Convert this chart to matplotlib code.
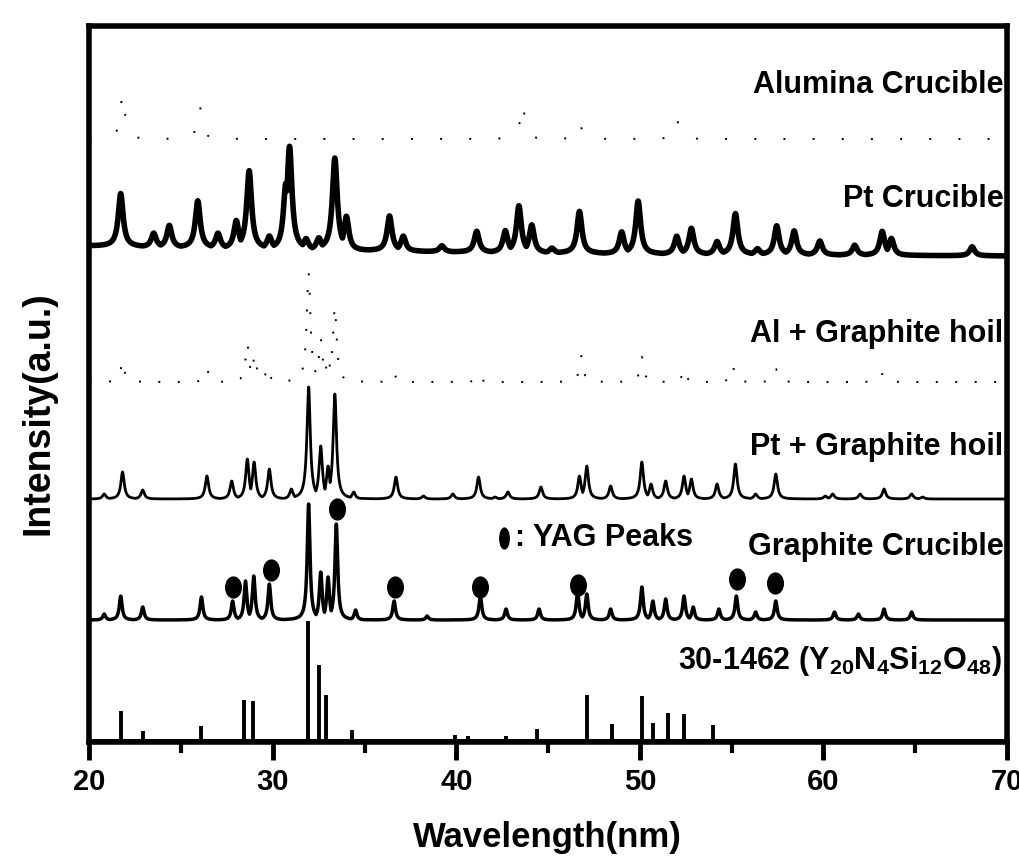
import numpy as np
import matplotlib
matplotlib.use('Agg')
import matplotlib.pyplot as plt
from matplotlib.path import Path
from matplotlib.transforms import Affine2D

plt.rcParams['font.family'] = ['Liberation Sans', 'DejaVu Sans']
plt.rcParams['font.weight'] = 'bold'
plt.rcParams['mathtext.fontset'] = 'custom'
plt.rcParams['mathtext.rm'] = 'Liberation Sans:bold'
plt.rcParams['mathtext.it'] = 'Liberation Sans:bold'
plt.rcParams['mathtext.bf'] = 'Liberation Sans:bold'
plt.rcParams['mathtext.default'] = 'rm'

# ---------------- data ----------------
x_ticks = [20, 30, 40, 50, 60, 70]

# Reference card 30-1462 (stick pattern)
ref_pos = [21.7, 22.9, 26.1, 28.4, 28.9, 31.9, 32.5, 32.9, 34.3, 39.9, 40.6,
           42.7, 44.4, 47.1, 48.5, 50.1, 50.7, 51.5, 52.4, 54.0]
ref_int = [29, 9, 14, 40, 39, 119, 75, 45, 10, 5, 4, 4, 11, 45, 16, 44, 17,
           27, 26, 15]

# Graphite Crucible
gc_pos = [20.8, 21.7, 22.9, 26.1, 27.8, 28.5, 28.95, 29.8, 31.94, 32.6, 33.0,
          33.45, 34.5, 36.6, 38.4, 41.3, 42.7, 44.5, 46.6, 47.1, 48.4, 50.1,
          50.7, 51.4, 52.4, 52.9, 54.3, 55.25, 56.3, 57.4, 60.6, 61.9, 63.3, 64.8]
gc_int = [6, 24, 13, 23, 19, 39, 44, 36, 116, 48, 43, 96, 10, 19, 4, 24, 11,
          11, 28, 26, 11, 33, 19, 21, 24, 13, 11, 24, 8, 19, 8, 6, 11, 8]

# YAG peak markers (above Graphite Crucible pattern)
yag_pos = [27.83, 29.89, 33.48, 36.63, 41.3, 46.6, 55.27, 57.34]
yag_y = [155, 172, 233, 155, 155, 157, 163, 159]

# Pt + Graphite hoil
pg_pos = [20.8, 21.8, 22.9, 26.4, 27.75, 28.6, 28.97, 29.8, 31.0, 31.94, 32.6,
          33.0, 33.37, 34.4, 36.7, 38.2, 39.8, 41.2, 42.1, 42.8, 44.6, 46.7,
          47.1, 48.4, 50.1, 50.6, 51.4, 52.4, 52.8, 54.2, 55.2, 56.3, 57.4,
          60.1, 60.5, 62.0, 63.3, 64.8, 65.4]
pg_int = [5, 27, 9, 23, 18, 40, 37, 30, 10, 112, 53, 33, 105, 7, 22, 3, 5, 22,
          2, 7, 12, 23, 33, 13, 37, 15, 18, 23, 20, 15, 35, 5, 25, 3, 5, 5, 10,
          5, 2]

# Al + Graphite hoil
ag_pos = [21.8, 26.4, 28.6, 29.0, 29.7, 31.94, 32.6, 33.0, 33.37, 36.6, 41.2,
          46.8, 50.1, 52.4, 55.05, 57.4, 63.2]
ag_int = [21, 13, 38, 27, 15, 109, 43, 25, 75, 8, 8, 26, 25, 13, 16, 13, 8]

# Pt Crucible
pt_pos = [21.7, 23.5, 24.35, 25.9, 27.0, 28.0, 28.7, 29.8, 30.7, 30.9, 31.8,
          32.5, 33.37, 34.0, 36.35, 37.1, 39.2, 41.1, 42.66, 43.4, 44.1, 45.2,
          46.7, 49.0, 49.9, 52.0, 52.8, 54.2, 55.2, 56.4, 57.45, 58.4, 59.8,
          61.7, 63.2, 63.7, 68.1]
pt_int = [53, 14, 22, 47, 15, 28, 78, 13, 66, 103, 11, 12, 92, 34, 35, 15, 6,
          21, 22, 47, 28, 5, 42, 22, 53, 18, 26, 13, 41, 6, 29, 24, 14, 10, 24,
          17, 9]
pt_base_x = [20, 30, 40, 50, 60, 70]
pt_base_y = [496, 493, 490, 488, 487, 486]

# Alumina Crucible
al_pos = [21.8, 26.0, 43.6, 46.7, 52.0]
al_int = [45, 33, 35, 16, 20]

# baselines (vertical offsets of the stacked patterns)
off_ref, off_gc, off_pg, off_ag, off_al = 2, 122, 243, 360, 603

# ---------------- drawing ----------------
fig = plt.figure(figsize=(10.2, 8.62), dpi=100)
ax = fig.add_axes([89.5 / 1020, 119 / 862, 917.5 / 1020, 716 / 862])
ax.set_xlim(20, 70)
ax.set_ylim(0, 716)

xg = np.linspace(20, 70, 10001)


def profile(pos, inten, hw):
    y = np.zeros_like(xg)
    for p, h in zip(pos, inten):
        y = np.maximum(y, h / (1.0 + ((xg - p) / hw) ** 2))
    return y


# reference sticks
ax.hlines(off_ref, 20, 70, color='k', lw=2)
ax.vlines(ref_pos, off_ref, np.array(ref_int) + off_ref, color='k', lw=2.8)

# Graphite Crucible
ax.plot(xg, off_gc + profile(gc_pos, gc_int, 0.09), color='k', lw=2.5)
ell = Path.unit_circle().transformed(Affine2D().scale(0.75, 1.0))
ax.plot(yag_pos, yag_y, ls='none', marker=ell, ms=15, color='k')

# Pt + Graphite hoil
ax.plot(xg, off_pg + profile(pg_pos, pg_int, 0.11), color='k', lw=2.0)

# Al + Graphite hoil (sparse dotted)
ax.plot(xg, off_ag + profile(ag_pos, ag_int, 0.12), color='k', lw=1.4,
        ls=(0, (1, 9)))

# Pt Crucible
pt_base = np.interp(xg, pt_base_x, pt_base_y)
ax.plot(xg, pt_base + profile(pt_pos, pt_int, 0.16), color='k', lw=4.0)

# Alumina Crucible (sparse dotted)
ax.plot(xg, off_al + profile(al_pos, al_int, 0.15), color='k', lw=1.4,
        ls=(0, (1, 14)))

# labels of patterns
lab_kw = dict(ha='right', va='baseline', fontsize=22, fontweight='bold')
ax.text(69.8, 650, 'Alumina Crucible', **lab_kw)
ax.text(69.8, 536, 'Pt Crucible', **lab_kw)
ax.text(69.8, 401, 'Al + Graphite hoil', **lab_kw)
ax.text(69.8, 288, 'Pt + Graphite hoil', **lab_kw)
ax.text(69.8, 188, 'Graphite Crucible', **lab_kw)
ax.text(69.7, 74, r'30-1462 (Y$_{20}$N$_{4}$Si$_{12}$O$_{48}$)', **lab_kw)

ell2 = Path.unit_circle().transformed(Affine2D().scale(0.45, 1.0))
ax.plot([42.6], [204], ls='none', marker=ell2, ms=15, color='k')
ax.text(43.2, 197, ': YAG Peaks', ha='left', va='baseline', fontsize=22,
        fontweight='bold')

# axes styling
for s in ax.spines.values():
    s.set_linewidth(4)
ax.set_xticks(x_ticks)
ax.set_xticks([25, 35, 45, 55, 65], minor=True)
ax.set_yticks([])
ax.tick_params(axis='x', which='major', direction='out', length=13, width=3.5,
               labelsize=21, pad=5)
ax.tick_params(axis='x', which='minor', direction='out', length=8, width=3)
for lbl in ax.get_xticklabels():
    lbl.set_fontweight('bold')

fig.text(547 / 1020, 1 - 838 / 862, 'Wavelength(nm)', ha='center', va='center',
         fontsize=25, fontweight='bold')
fig.text(39 / 1020, 1 - 413.5 / 862, 'Intensity(a.u.)', ha='center',
         va='center', rotation=90, fontsize=27, fontweight='bold')

fig.savefig('out.png', dpi=100)
